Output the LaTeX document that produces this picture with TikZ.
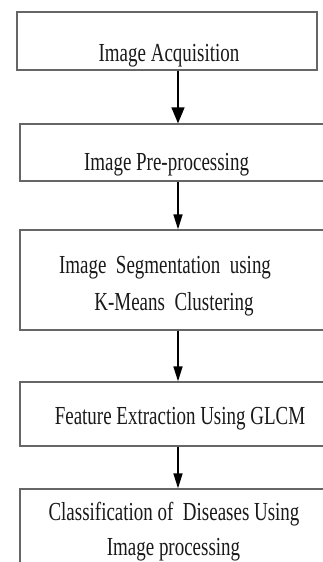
\documentclass[tikz,border=0pt]{standalone}
\usepackage{fontspec}
\newfontfamily\flowfont[FakeStretch=0.73]{Liberation Serif}
\usetikzlibrary{arrows.meta}
\tikzset{>={Triangle[width=9pt,length=15pt]}}
\tikzstyle{stage}=[rectangle,draw=black!60,line width=1.3pt,inner sep=0pt]
\tikzstyle{caption}=[anchor=base,inner sep=0pt,text=black!90,font=\flowfont\fontsize{26}{30}\selectfont]

\begin{document}
\begin{tikzpicture}[x=1pt,y=-1pt]
	\useasboundingbox (0,0) rectangle (322,562);

	\node[stage, minimum width=300pt, minimum height=58pt] (acq) at (167,41) {};
	\node[stage, minimum width=316pt, minimum height=57pt] (pre) at (178,152.5) {};
	\node[stage, minimum width=316pt, minimum height=100pt] (seg) at (178,280) {};
	\node[stage, minimum width=316pt, minimum height=64pt] (feat) at (178,414) {};
	\node[stage, minimum width=316pt, minimum height=101pt] (cls) at (178,539.5) {};

	\node[caption] (acqtext) at (169,61) {Image Acquisition};
	\node[caption] (pretext) at (166.5,170.5) {Image Pre-processing};
	\node[caption] (segtexta) at (165,273.5) {Image\ \ Segmentation\ \ using};
	\node[caption] (segtextb) at (174,310.5) {K-Means\ \ Clustering};
	\node[caption] (feattext) at (180,424) {Feature Extraction Using GLCM};
	\node[caption] (clstexta) at (174,520) {Classification of\ \ Diseases Using};
	\node[caption] (clstextb) at (173.5,555) {Image processing};

	\draw[-{Triangle[width=13pt,length=16pt]}, line width=1.5pt] (pre.north |- acq.south) -- (pre.north);
	\draw[->, line width=1.5pt] (pre.south) -- (seg.north);
	\draw[->, line width=1.5pt] (seg.south) -- (feat.north);
	\draw[->, line width=1.5pt] (feat.south) -- (cls.north);
\end{tikzpicture}
\end{document}
